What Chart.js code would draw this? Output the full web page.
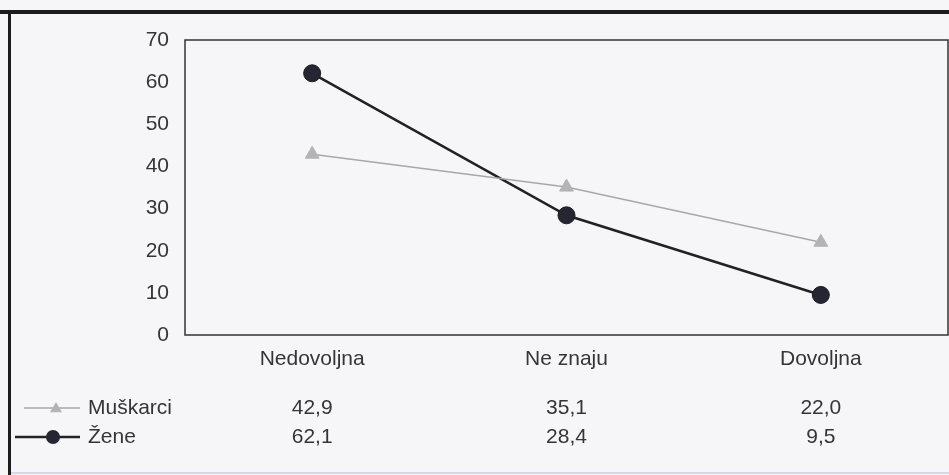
<!DOCTYPE html>
<html>
<head>
<meta charset="utf-8">
<script src="https://cdn.jsdelivr.net/npm/chart.js@4.4.0/dist/chart.umd.min.js"></script>
<style>
html,body{margin:0;padding:0;background:#f6f6f9;}
canvas{display:block;}
</style>
</head>
<body>
<canvas id="c" width="949" height="475"></canvas>
<script>
const categories = ['Nedovoljna', 'Ne znaju', 'Dovoljna'];
const seriesNames = ['Muškarci', 'Žene'];
const muskarci = [42.9, 35.1, 22.0];
const zene = [62.1, 28.4, 9.5];
const yMin = 0, yMax = 70, yStep = 10;

const FONT = '"Liberation Sans", Arial, sans-serif';
const TEXT = '#353535';

const fmt = v => v.toFixed(1).replace('.', ',');

const framePlugin = {
  id: 'frame',
  beforeDraw(chart) {
    const ctx = chart.ctx;
    ctx.save();
    ctx.fillStyle = '#f6f6f9';
    ctx.fillRect(0, 0, chart.width, chart.height);
    ctx.fillStyle = '#1c1c1c';
    ctx.fillRect(0, 10, chart.width, 4);
    ctx.fillRect(8, 12, 3, chart.height - 12);
    ctx.fillStyle = '#d8d4ea';
    ctx.fillRect(11, chart.height - 3, chart.width, 2);
    ctx.restore();
  },
  afterDraw(chart) {
    const ctx = chart.ctx;
    const a = chart.chartArea;
    ctx.save();
    ctx.strokeStyle = '#333';
    ctx.lineWidth = 1.5;
    ctx.strokeRect(a.left, a.top, a.right - a.left, a.bottom - a.top);
    // data table
    const xs = chart.scales.x;
    const rowData = [muskarci, zene];
    ctx.font = '21px ' + FONT;
    ctx.textBaseline = 'middle';
    rowData.forEach((vals, i) => {
      const ds = chart.data.datasets[i];
      const y = a.bottom + 73 + i * 29;
      // legend sample
      ctx.strokeStyle = ds.borderColor;
      ctx.lineWidth = ds.borderWidth;
      ctx.beginPath();
      ctx.moveTo(i === 0 ? 24 : 15, y);
      ctx.lineTo(80, y);
      ctx.stroke();
      ctx.fillStyle = ds.pointBackgroundColor;
      const mx = i === 0 ? 56 : 53;
      if (ds.pointStyle === 'triangle') {
        const r = 6;
        ctx.beginPath();
        ctx.moveTo(mx, y - r);
        ctx.lineTo(mx + r, y + r * 0.7);
        ctx.lineTo(mx - r, y + r * 0.7);
        ctx.closePath();
        ctx.fill();
      } else {
        ctx.beginPath();
        ctx.arc(mx, y, 7, 0, Math.PI * 2);
        ctx.fill();
      }
      ctx.fillStyle = TEXT;
      ctx.textAlign = 'left';
      ctx.fillText(seriesNames[i], 88, y);
      ctx.textAlign = 'center';
      vals.forEach((v, j) => {
        ctx.fillText(fmt(v), xs.getPixelForValue(j), y);
      });
    });
    ctx.restore();
  }
};

new Chart(document.getElementById('c'), {
  type: 'line',
  data: {
    labels: categories,
    datasets: [
      {
        label: seriesNames[0],
        data: muskarci,
        borderColor: '#a8a8a8',
        borderWidth: 1.5,
        pointStyle: 'triangle',
        pointRadius: 8,
        pointBackgroundColor: '#b4b4b4',
        pointBorderColor: '#b4b4b4',
        pointBorderWidth: 1,
        tension: 0
      },
      {
        label: seriesNames[1],
        data: zene,
        borderColor: '#222222',
        borderWidth: 2.5,
        pointStyle: 'circle',
        pointRadius: 8.5,
        pointBackgroundColor: '#262633',
        pointBorderColor: '#1a1a22',
        pointBorderWidth: 1,
        tension: 0
      }
    ]
  },
  options: {
    responsive: false,
    animation: false,
    devicePixelRatio: 1,
    layout: { autoPadding: false, padding: { top: 40, right: 1, left: 0, bottom: 0 } },
    plugins: { legend: { display: false }, tooltip: { enabled: false } },
    scales: {
      x: {
        type: 'category',
        offset: true,
        grid: { display: false },
        border: { display: false },
        ticks: { color: TEXT, font: { size: 21, family: FONT }, padding: 4, maxRotation: 0 },
        afterFit(s) { s.height = 140; s.paddingLeft = 0; s.paddingRight = 0; }
      },
      y: {
        min: yMin,
        max: yMax,
        grid: { display: false },
        border: { display: false },
        ticks: { stepSize: yStep, color: TEXT, font: { size: 21, family: FONT }, padding: 8 },
        afterFit(s) { s.width = 185; }
      }
    }
  },
  plugins: [framePlugin]
});
</script>
</body>
</html>
